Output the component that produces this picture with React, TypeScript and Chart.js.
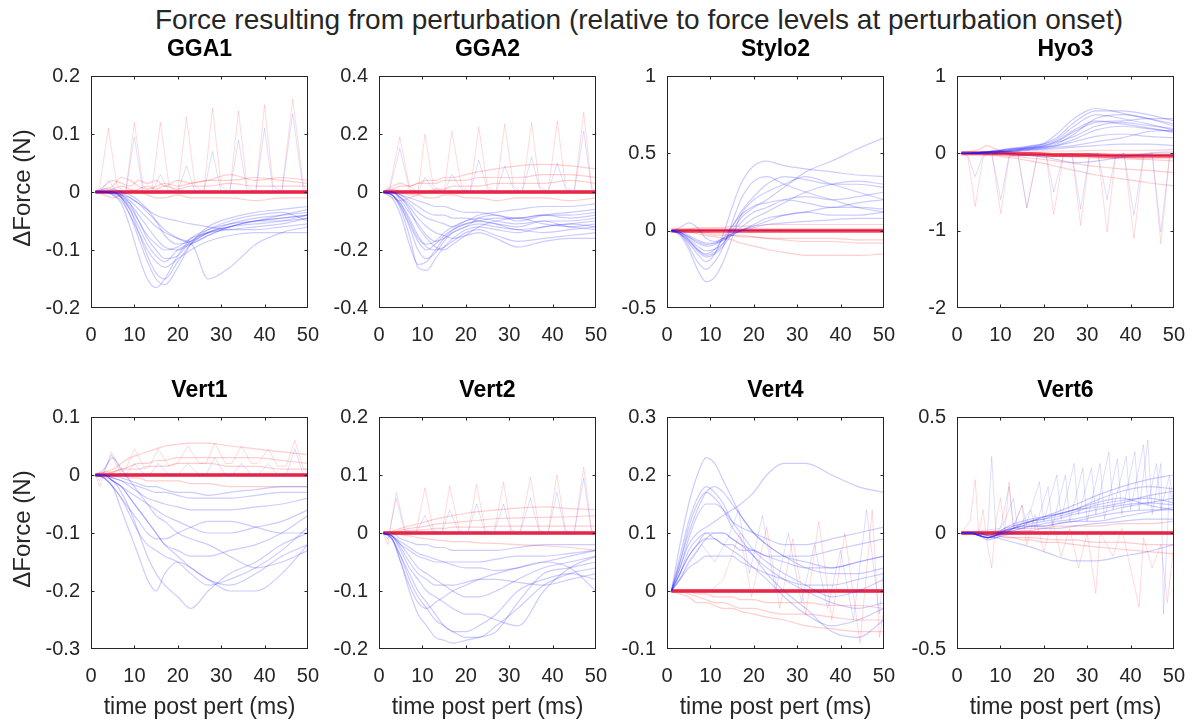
import React, { useEffect, useRef } from "react";
import { Chart, registerables } from "chart.js";
Chart.register(...registerables);

// ---------- data ----------
const T = [1, 3, 5, 7, 9, 11, 13, 15, 17, 20, 23, 27, 32, 38, 44, 50];
const xTickValues = [0, 10, 20, 30, 40, 50];
const zeroCore = [0, 0, 0, 0, 0, 0, 0, 0, 0, 0, 0, 0, 0, 0, 0, 0];

// GGA1
const gga1Blue = [
  [0, 0, -0.005, -0.02, -0.06, -0.11, -0.15, -0.165, -0.15, -0.11, -0.08, -0.065, -0.055, -0.05, -0.045, -0.04],
  [0, 0, -0.003, -0.01, -0.03, -0.07, -0.11, -0.14, -0.15, -0.12, -0.09, -0.07, -0.06, -0.05, -0.05, -0.045],
  [0, 0, 0, -0.005, -0.02, -0.05, -0.08, -0.1, -0.115, -0.11, -0.085, -0.07, -0.06, -0.055, -0.05, -0.04],
  [0, 0, 0, -0.005, -0.015, -0.03, -0.045, -0.06, -0.07, -0.08, -0.085, -0.07, -0.055, -0.045, -0.04, -0.035],
  [0, 0.005, 0.005, 0, -0.01, -0.02, -0.035, -0.05, -0.065, -0.08, -0.088, -0.075, -0.06, -0.05, -0.04, -0.03],
  [0, 0, 0, -0.005, -0.01, -0.02, -0.03, -0.04, -0.045, -0.05, -0.055, -0.06, -0.065, -0.065, -0.06, -0.055],
  [0, 0, 0, -0.01, -0.03, -0.06, -0.09, -0.11, -0.12, -0.1, -0.09, -0.15, -0.13, -0.09, -0.07, -0.06],
  [0, 0, 0, -0.01, -0.04, -0.08, -0.12, -0.15, -0.16, -0.13, -0.09, -0.06, -0.045, -0.035, -0.03, -0.025],
  [0, 0, -0.002, -0.008, -0.02, -0.04, -0.06, -0.08, -0.095, -0.1, -0.09, -0.075, -0.06, -0.05, -0.045, -0.04],
  [0, 0, 0, 0, -0.005, -0.015, -0.03, -0.05, -0.075, -0.09, -0.085, -0.065, -0.05, -0.04, -0.035, -0.05],
  [0, 0, -0.005, -0.015, -0.04, -0.07, -0.1, -0.12, -0.13, -0.115, -0.1, -0.085, -0.075, -0.07, -0.07, -0.07],
  [0, 0, 0, -0.008, -0.025, -0.05, -0.075, -0.09, -0.1, -0.095, -0.08, -0.07, -0.065, -0.06, -0.055, -0.045],
];
const gga1Red = [
  [0, 0.01, 0.02, 0.015, 0.01, 0.02, 0.015, 0.02, 0.01, 0.02, 0.015, 0.02, 0.02, 0.025, 0.02, 0.015],
  [0, -0.005, -0.01, -0.005, 0, 0.005, 0.01, 0.005, 0.01, 0.005, 0.01, 0.01, 0.015, 0.01, 0.01, 0.01],
  [0, 0, 0.005, 0.01, 0.005, 0, -0.005, -0.01, -0.01, -0.005, -0.01, -0.01, -0.01, -0.015, -0.01, -0.01],
  [0, 0.005, 0.01, 0.025, 0.02, 0.01, 0.005, 0.01, 0.015, 0.01, 0.015, 0.02, 0.03, 0.02, 0.025, 0.02],
];
const gga1SpikeX = [1, 2, 4, 6, 8, 10, 12, 14, 16, 18, 20, 22, 24, 26, 28, 30, 32, 34, 36, 38, 40, 42, 44, 46.5, 49, 50];
const gga1SpikeRed = [0, 0.01, 0.11, 0.01, 0, 0.12, 0.01, 0, 0.12, 0.01, 0, 0.13, 0.01, 0, 0.145, 0.01, 0, 0.14, 0.01, 0, 0.15, 0.01, 0, 0.16, 0.01, 0];
const gga1SpikeBlue = [0, 0, 0.02, 0, 0, 0.095, 0, 0, 0.03, 0, 0, 0.045, 0, 0, 0.07, 0, 0, 0.09, 0, 0, 0.11, 0, 0, 0.135, 0, 0];

// GGA2
const gga2Blue = [
  [0, -0.01, -0.06, -0.15, -0.26, -0.27, -0.23, -0.19, -0.16, -0.13, -0.12, -0.13, -0.14, -0.12, -0.11, -0.1],
  [0, -0.01, -0.05, -0.11, -0.17, -0.2, -0.18, -0.15, -0.13, -0.11, -0.1, -0.11, -0.12, -0.1, -0.1, -0.09],
  [0, 0, -0.03, -0.07, -0.11, -0.15, -0.17, -0.16, -0.14, -0.12, -0.09, -0.08, -0.1, -0.08, -0.07, -0.06],
  [0, 0, -0.02, -0.04, -0.07, -0.09, -0.1, -0.11, -0.12, -0.1, -0.08, -0.07, -0.06, -0.05, -0.05, -0.04],
  [0, -0.01, -0.04, -0.09, -0.15, -0.19, -0.2, -0.19, -0.17, -0.14, -0.13, -0.15, -0.17, -0.16, -0.15, -0.14],
  [0, -0.01, -0.05, -0.12, -0.2, -0.23, -0.21, -0.17, -0.14, -0.12, -0.11, -0.12, -0.13, -0.14, -0.13, -0.12],
  [0, 0, -0.01, -0.03, -0.05, -0.07, -0.08, -0.08, -0.09, -0.09, -0.1, -0.11, -0.13, -0.12, -0.11, -0.12],
  [0, -0.02, -0.08, -0.18, -0.25, -0.24, -0.2, -0.16, -0.13, -0.11, -0.1, -0.09, -0.09, -0.08, -0.08, -0.07],
  [0, 0, -0.02, -0.05, -0.09, -0.12, -0.14, -0.15, -0.16, -0.15, -0.14, -0.16, -0.19, -0.17, -0.16, -0.16],
  [0, 0, -0.01, -0.02, -0.03, -0.04, -0.05, -0.05, -0.06, -0.07, -0.07, -0.08, -0.09, -0.08, -0.09, -0.08],
  [0, -0.01, -0.04, -0.1, -0.16, -0.18, -0.17, -0.14, -0.12, -0.1, -0.09, -0.1, -0.11, -0.1, -0.12, -0.11],
  [0, 0, -0.02, -0.06, -0.12, -0.16, -0.19, -0.2, -0.18, -0.15, -0.12, -0.1, -0.09, -0.11, -0.12, -0.13],
];
const gga2Red = [
  [0, 0.01, 0.02, 0.02, 0.03, 0.04, 0.04, 0.05, 0.05, 0.06, 0.07, 0.08, 0.09, 0.095, 0.09, 0.08],
  [0, 0.02, 0.03, 0.02, 0.03, 0.03, 0.03, 0.04, 0.04, 0.04, 0.05, 0.05, 0.05, 0.06, 0.06, 0.05],
  [0, -0.02, -0.03, -0.02, -0.01, 0, 0.01, 0.01, 0.02, 0.02, 0.02, 0.03, 0.03, 0.03, 0.04, 0.03],
  [0, 0.01, 0, -0.01, -0.01, -0.02, -0.02, -0.01, -0.01, -0.02, -0.02, -0.03, -0.02, -0.02, -0.03, -0.02],
];
const gga2SpikeX = [1, 2.5, 4.8, 7, 9, 10.6, 12.5, 15, 16.8, 19, 21, 23, 25, 27, 29, 31, 33, 35.2, 37, 39, 41.1, 43, 45, 47.2, 49, 50];
const gga2SpikeRed = [0, 0.02, 0.19, 0.02, 0, 0.2, 0.02, 0, 0.21, 0.02, 0, 0.225, 0.02, 0, 0.235, 0.02, 0, 0.24, 0.02, 0, 0.245, 0.02, 0, 0.275, 0.02, 0];
const gga2SpikeBlue = [0, 0.01, 0.15, 0.01, 0, 0.05, 0.01, 0, 0.06, 0.01, 0, 0.11, 0.01, 0, 0.09, 0.01, 0, 0.12, 0.01, 0, 0.1, 0.01, 0, 0.21, 0.01, 0];

// Stylo2
const stylo2Blue = [
  [0, -0.02, -0.08, -0.15, -0.2, -0.15, -0.02, 0.15, 0.3, 0.42, 0.45, 0.42, 0.4, 0.38, 0.36, 0.35],
  [0, -0.03, -0.12, -0.25, -0.33, -0.3, -0.2, -0.05, 0.1, 0.2, 0.25, 0.3, 0.35, 0.3, 0.25, 0.2],
  [0, -0.01, -0.05, -0.1, -0.13, -0.12, -0.08, 0, 0.08, 0.15, 0.2, 0.28, 0.38, 0.45, 0.53, 0.6],
  [0, -0.01, -0.04, -0.08, -0.1, -0.09, -0.06, -0.03, 0, 0.03, 0.06, 0.1, 0.12, 0.15, 0.15, 0.14],
  [0, -0.02, -0.07, -0.13, -0.17, -0.15, -0.1, -0.02, 0.05, 0.12, 0.15, 0.2, 0.22, 0.2, 0.22, 0.25],
  [0, 0, -0.03, -0.06, -0.08, -0.08, -0.06, -0.03, 0, 0.02, 0.04, 0.05, 0.06, 0.07, 0.08, 0.08],
  [0, -0.02, -0.1, -0.2, -0.25, -0.2, -0.1, 0.05, 0.2, 0.32, 0.35, 0.3, 0.25, 0.2, 0.15, 0.12],
  [0, 0.02, 0.05, 0.02, -0.05, -0.07, -0.05, -0.02, 0.02, 0.08, 0.12, 0.18, 0.25, 0.3, 0.32, 0.3],
  [0, -0.01, -0.06, -0.12, -0.16, -0.14, -0.08, 0.02, 0.12, 0.22, 0.3, 0.35, 0.33, 0.3, 0.3, 0.28],
  [0, -0.01, -0.04, -0.07, -0.09, -0.08, -0.05, -0.02, 0, 0.04, 0.08, 0.1, 0.12, 0.1, 0.1, 0.12],
  [0, -0.02, -0.06, -0.12, -0.15, -0.12, -0.05, 0.03, 0.1, 0.16, 0.18, 0.2, 0.18, 0.15, 0.18, 0.2],
];
const stylo2Red = [
  [0, 0, -0.01, -0.02, -0.03, -0.04, -0.05, -0.06, -0.08, -0.1, -0.12, -0.14, -0.16, -0.16, -0.16, -0.15],
  [0, 0, 0, -0.01, -0.01, -0.02, -0.02, -0.03, -0.03, -0.04, -0.05, -0.06, -0.07, -0.07, -0.08, -0.08],
  [0, 0.01, 0.01, 0.02, 0.02, 0.02, 0.02, 0.03, 0.03, 0.03, 0.04, 0.04, 0.04, 0.04, 0.04, 0.04],
  [0, 0, -0.01, -0.01, -0.02, -0.03, -0.03, -0.03, -0.04, -0.04, -0.05, -0.05, -0.05, -0.05, -0.06, -0.06],
];

// Hyo3
const hyo3Blue = [
  [0, 0, 0.01, 0.02, 0.03, 0.04, 0.05, 0.06, 0.08, 0.12, 0.2, 0.4, 0.55, 0.55, 0.5, 0.42],
  [0, 0, 0.01, 0.01, 0.02, 0.03, 0.04, 0.05, 0.06, 0.08, 0.12, 0.25, 0.45, 0.5, 0.45, 0.35],
  [0, 0, 0, 0.01, 0.02, 0.02, 0.03, 0.04, 0.05, 0.07, 0.1, 0.18, 0.3, 0.35, 0.32, 0.28],
  [0, 0, 0.01, 0.01, 0.02, 0.03, 0.04, 0.05, 0.06, 0.08, 0.1, 0.15, 0.22, 0.25, 0.22, 0.2],
  [0, 0, 0.01, 0.02, 0.03, 0.04, 0.06, 0.07, 0.09, 0.12, 0.18, 0.35, 0.5, 0.45, 0.38, 0.3],
  [0, 0, 0, 0.01, 0.01, 0.02, 0.02, 0.03, 0.04, 0.05, 0.06, 0.08, 0.1, 0.12, 0.12, 0.1],
  [0, 0, 0.01, 0.02, 0.03, 0.05, 0.06, 0.07, 0.08, 0.1, 0.15, 0.28, 0.4, 0.42, 0.45, 0.45],
  [0, 0, 0, 0, 0.01, 0.02, 0.03, 0.04, 0.05, 0.06, 0.08, 0.1, 0.15, 0.2, 0.28, 0.3],
  [0, 0, 0, 0, 0, 0, -0.01, -0.02, -0.03, -0.05, -0.08, -0.12, -0.1, -0.05, 0, 0.02],
  [0, 0, 0.01, 0.02, 0.04, 0.05, 0.07, 0.08, 0.1, 0.13, 0.25, 0.45, 0.58, 0.52, 0.45, 0.38],
  [0, 0, 0.01, 0.02, 0.03, 0.04, 0.05, 0.06, 0.07, 0.1, 0.16, 0.3, 0.42, 0.38, 0.33, 0.27],
  [0, 0, 0.01, 0.01, 0.02, 0.03, 0.04, 0.05, 0.07, 0.09, 0.14, 0.22, 0.35, 0.4, 0.36, 0.32],
];
const hyo3Red = [
  [0, 0, -0.01, -0.02, -0.03, -0.05, -0.06, -0.08, -0.1, -0.13, -0.17, -0.22, -0.28, -0.33, -0.38, -0.42],
  [0, 0, 0, -0.01, -0.02, -0.03, -0.04, -0.05, -0.06, -0.08, -0.1, -0.13, -0.17, -0.2, -0.22, -0.25],
  [0, 0.02, 0.05, 0.1, 0.05, 0.02, 0.02, 0.01, 0.01, 0, -0.02, -0.03, -0.05, -0.07, -0.08, -0.1],
  [0, 0, 0, 0, -0.01, -0.01, -0.02, -0.02, -0.03, -0.03, -0.04, -0.05, -0.06, -0.06, -0.07, -0.07],
  [0, 0, 0.01, 0.01, 0.02, 0.02, 0.02, 0.03, 0.03, 0.03, 0.03, 0.03, 0.04, 0.04, 0.04, 0.05],
];
const hyo3Core = [0, 0, 0, 0, 0, 0, -0.005, -0.01, -0.01, -0.015, -0.02, -0.02, -0.025, -0.03, -0.03, -0.03];
const hyo3SpikeX = [1, 2.5, 4.2, 6, 8, 10.1, 12, 14, 16.1, 18.5, 20.5, 22.3, 24.5, 26.5, 28.5, 30.5, 32.5, 34.6, 36.5, 38.5, 40.8, 43, 45, 47, 49, 50];
const hyo3SpikeRed = [0, -0.05, -0.69, -0.05, 0, -0.78, -0.05, 0, -0.71, -0.05, 0, -0.79, -0.05, 0, -0.93, -0.05, 0, -1.02, -0.05, 0, -1.1, -0.05, 0, -1.17, -0.05, 0];
const hyo3SpikeBlue = [0, -0.03, -0.3, -0.03, 0, -0.6, -0.03, 0, -0.7, -0.03, 0, -0.5, -0.03, 0, -0.72, -0.03, 0, -0.6, -0.03, 0, -0.8, -0.03, 0, -1.02, -0.03, 0];

// Vert1
const vert1Blue = [
  [0, -0.005, -0.02, -0.06, -0.1, -0.14, -0.18, -0.2, -0.17, -0.15, -0.16, -0.18, -0.19, -0.17, -0.14, -0.12],
  [0, -0.003, -0.01, -0.03, -0.06, -0.1, -0.14, -0.17, -0.19, -0.21, -0.23, -0.2, -0.17, -0.15, -0.12, -0.1],
  [0, 0, -0.01, -0.02, -0.04, -0.06, -0.08, -0.1, -0.12, -0.14, -0.16, -0.18, -0.2, -0.2, -0.17, -0.12],
  [0, 0, -0.01, -0.02, -0.03, -0.04, -0.05, -0.06, -0.07, -0.08, -0.09, -0.1, -0.1, -0.09, -0.08, -0.06],
  [0, 0, -0.005, -0.01, -0.015, -0.02, -0.025, -0.03, -0.03, -0.035, -0.04, -0.04, -0.04, -0.035, -0.03, -0.03],
  [0, 0, -0.01, -0.02, -0.04, -0.06, -0.08, -0.1, -0.12, -0.13, -0.14, -0.14, -0.13, -0.12, -0.1, -0.07],
  [0, 0.01, 0.03, 0.01, -0.01, -0.03, -0.05, -0.07, -0.08, -0.1, -0.11, -0.12, -0.14, -0.16, -0.15, -0.13],
  [0, 0, -0.005, -0.01, -0.02, -0.03, -0.04, -0.045, -0.05, -0.055, -0.06, -0.06, -0.06, -0.055, -0.05, -0.04],
  [0, -0.005, -0.02, -0.04, -0.07, -0.1, -0.12, -0.13, -0.14, -0.15, -0.17, -0.19, -0.18, -0.16, -0.13, -0.09],
  [0, 0, 0, -0.005, -0.01, -0.015, -0.02, -0.02, -0.025, -0.03, -0.03, -0.035, -0.03, -0.025, -0.02, -0.02],
  [0, -0.005, -0.02, -0.04, -0.06, -0.08, -0.1, -0.11, -0.11, -0.1, -0.09, -0.08, -0.08, -0.09, -0.1, -0.1],
];
const vert1Red = [
  [0, 0.005, 0.01, 0.02, 0.03, 0.035, 0.04, 0.045, 0.05, 0.053, 0.055, 0.055, 0.05, 0.045, 0.04, 0.035],
  [0, 0, 0.005, 0.01, 0.015, 0.02, 0.02, 0.025, 0.025, 0.03, 0.03, 0.03, 0.03, 0.03, 0.025, 0.02],
  [0, 0, 0, 0, -0.005, -0.005, -0.01, -0.01, -0.01, -0.01, -0.015, -0.015, -0.02, -0.02, -0.02, -0.02],
  [0, 0.005, 0.005, 0.01, 0.01, 0.01, 0.015, 0.015, 0.015, 0.02, 0.02, 0.02, 0.015, 0.015, 0.01, 0.01],
];
const vert1SpikeX = [1, 2, 4.7, 7, 8, 10, 12.5, 13.5, 15.5, 18, 20, 22.3, 25, 26.5, 28.5, 31, 32.5, 34.7, 37, 38.5, 40.9, 43, 45, 47, 49, 50];
const vert1SpikeRed = [0, -0.02, 0.04, 0.005, 0.01, 0.045, 0.01, 0.015, 0.045, 0.015, 0.02, 0.05, 0.02, 0.02, 0.055, 0.02, 0.02, 0.05, 0.02, 0.02, 0.045, 0.015, 0.015, 0.06, 0.01, 0.01];
const vert1SpikeBlue = [0, -0.01, 0.035, 0, 0, 0.02, 0, 0, 0.02, 0, 0, 0.02, 0, 0, 0.03, 0, 0, 0.02, 0, 0, 0.02, 0, 0, 0.045, 0, 0];

// Vert2
const vert2Blue = [
  [0, -0.01, -0.05, -0.1, -0.14, -0.16, -0.18, -0.185, -0.19, -0.185, -0.18, -0.17, -0.12, -0.07, -0.06, -0.05],
  [0, -0.01, -0.04, -0.08, -0.11, -0.13, -0.15, -0.16, -0.17, -0.17, -0.16, -0.14, -0.1, -0.08, -0.07, -0.08],
  [0, -0.005, -0.03, -0.06, -0.08, -0.1, -0.11, -0.12, -0.13, -0.14, -0.14, -0.15, -0.16, -0.1, -0.06, -0.04],
  [0, -0.005, -0.02, -0.04, -0.06, -0.07, -0.08, -0.09, -0.1, -0.11, -0.11, -0.1, -0.08, -0.06, -0.05, -0.04],
  [0, -0.005, -0.02, -0.03, -0.04, -0.045, -0.05, -0.05, -0.05, -0.05, -0.05, -0.045, -0.04, -0.04, -0.035, -0.03],
  [0, -0.01, -0.05, -0.09, -0.12, -0.13, -0.12, -0.11, -0.1, -0.09, -0.08, -0.07, -0.06, -0.05, -0.06, -0.1],
  [0, 0, -0.01, -0.015, -0.02, -0.02, -0.025, -0.025, -0.03, -0.03, -0.03, -0.03, -0.025, -0.02, -0.02, -0.02],
  [0, -0.01, -0.04, -0.07, -0.1, -0.12, -0.14, -0.16, -0.17, -0.18, -0.18, -0.16, -0.13, -0.09, -0.07, -0.06],
  [0, -0.005, -0.025, -0.05, -0.07, -0.08, -0.09, -0.09, -0.09, -0.085, -0.08, -0.08, -0.085, -0.09, -0.08, -0.07],
  [0, -0.005, -0.015, -0.025, -0.035, -0.04, -0.045, -0.05, -0.055, -0.06, -0.06, -0.065, -0.06, -0.05, -0.04, -0.03],
];
const vert2Red = [
  [0, 0.003, 0.008, 0.012, 0.016, 0.02, 0.024, 0.027, 0.03, 0.034, 0.037, 0.04, 0.043, 0.045, 0.042, 0.04],
  [0, 0, 0.005, 0.008, 0.01, 0.012, 0.015, 0.017, 0.018, 0.02, 0.022, 0.025, 0.026, 0.027, 0.028, 0.03],
  [0, 0, -0.003, -0.005, -0.008, -0.01, -0.012, -0.013, -0.015, -0.015, -0.017, -0.018, -0.02, -0.022, -0.025, -0.03],
  [0, 0, 0.002, 0.004, 0.005, 0.006, 0.008, 0.008, 0.01, 0.01, 0.01, 0.012, 0.012, 0.012, 0.012, 0.012],
];
const vert2SpikeX = [1, 2, 4, 6, 8.5, 10.6, 12.5, 14.5, 16.3, 18.5, 20.5, 22.5, 24.5, 26.5, 28.7, 30.5, 32.5, 34.9, 37, 39, 41, 43, 45, 47.2, 49, 50];
const vert2SpikeRed = [0, -0.02, 0.07, 0.005, 0, 0.078, 0.005, 0, 0.081, 0.005, 0, 0.084, 0.005, 0, 0.088, 0.005, 0, 0.097, 0.005, 0, 0.1, 0.005, 0, 0.114, 0.005, 0];
const vert2SpikeBlue = [0, -0.01, 0.06, 0, 0, 0.03, 0, 0, 0.04, 0, 0, 0.05, 0, 0, 0.05, 0, 0, 0.06, 0, 0, 0.07, 0, 0, 0.095, 0, 0];

// Vert4
const vert4Blue = [
  [0, 0.08, 0.15, 0.2, 0.23, 0.22, 0.19, 0.16, 0.13, 0.1, 0.08, 0.06, 0.05, 0.04, 0.05, 0.06],
  [0, 0.05, 0.1, 0.14, 0.17, 0.18, 0.17, 0.15, 0.13, 0.1, 0.08, 0.06, 0.04, 0.03, 0.03, 0.04],
  [0, 0.04, 0.08, 0.1, 0.11, 0.12, 0.13, 0.14, 0.15, 0.17, 0.2, 0.22, 0.22, 0.2, 0.18, 0.17],
  [0, 0.03, 0.06, 0.08, 0.1, 0.1, 0.1, 0.09, 0.08, 0.07, 0.06, 0.05, 0.04, 0.04, 0.05, 0.06],
  [0, 0.06, 0.12, 0.16, 0.18, 0.17, 0.15, 0.12, 0.1, 0.07, 0.05, 0.03, 0.01, -0.01, 0, 0.02],
  [0, 0.02, 0.05, 0.07, 0.09, 0.1, 0.1, 0.09, 0.08, 0.06, 0.04, 0.02, 0, -0.02, -0.03, -0.02],
  [0, 0.03, 0.07, 0.09, 0.1, 0.09, 0.08, 0.07, 0.06, 0.04, 0.02, -0.01, -0.04, -0.06, -0.05, -0.03],
  [0, 0.04, 0.09, 0.13, 0.15, 0.15, 0.14, 0.12, 0.11, 0.1, 0.09, 0.08, 0.08, 0.09, 0.1, 0.11],
  [0, 0.02, 0.04, 0.05, 0.06, 0.06, 0.06, 0.06, 0.05, 0.04, 0.03, 0.02, 0.01, 0.01, 0.02, 0.03],
  [0, 0.05, 0.11, 0.15, 0.17, 0.16, 0.14, 0.11, 0.09, 0.06, 0.03, 0, -0.03, -0.07, -0.08, -0.05],
  [0, 0.03, 0.06, 0.08, 0.09, 0.09, 0.08, 0.08, 0.07, 0.07, 0.06, 0.06, 0.06, 0.07, 0.08, 0.09],
];
const vert4Red = [
  [0, 0, -0.005, -0.01, -0.015, -0.02, -0.02, -0.025, -0.03, -0.03, -0.035, -0.04, -0.04, -0.045, -0.05, -0.05],
  [0, -0.005, -0.01, -0.02, -0.02, -0.025, -0.03, -0.03, -0.035, -0.04, -0.045, -0.05, -0.06, -0.065, -0.07, -0.07],
  [0, 0, 0, -0.005, -0.005, -0.01, -0.01, -0.01, -0.015, -0.015, -0.02, -0.02, -0.02, -0.025, -0.025, -0.03],
];
const vert4ZigRedX = [1, 10, 13, 16.8, 19.5, 23, 26, 29, 32, 35, 38, 41, 44.5, 47.3, 49, 50];
const vert4ZigRed = [0, 0, 0.02, 0.1, -0.01, 0.11, -0.03, 0.09, -0.04, 0.12, -0.05, 0.1, -0.09, 0.14, -0.08, -0.03];
const vert4ZigBlueX = [1, 8, 11, 14, 16.5, 19, 22, 25, 28, 31, 34, 37, 40, 43, 46, 49, 50];
const vert4ZigBlue = [0, 0.08, 0.05, 0.09, 0.14, 0.03, 0.13, 0, 0.1, -0.02, 0.08, -0.03, 0.07, -0.05, 0.14, -0.04, 0.05];

// Vert6
const vert6Blue = [
  [0, 0, -0.01, -0.02, -0.01, 0.01, 0.03, 0.04, 0.05, 0.07, 0.09, 0.12, 0.16, 0.2, 0.23, 0.25],
  [0, 0, -0.01, -0.02, 0, 0.02, 0.03, 0.04, 0.05, 0.06, 0.07, 0.09, 0.12, 0.14, 0.15, 0.13],
  [0, 0, -0.01, -0.02, -0.01, 0, 0.01, 0.02, 0.03, 0.03, 0.04, 0.05, 0.07, 0.09, 0.1, 0.1],
  [0, 0, -0.01, -0.02, -0.02, -0.01, 0, 0.01, 0.01, 0.02, 0.02, 0.03, 0.04, 0.05, 0.06, 0.06],
  [0, 0, -0.01, -0.03, -0.02, 0, 0.02, 0.04, 0.05, 0.07, 0.08, 0.1, 0.13, 0.15, 0.12, 0.1],
  [0, 0, 0, -0.01, -0.02, -0.03, -0.04, -0.05, -0.06, -0.08, -0.1, -0.12, -0.12, -0.1, -0.08, -0.05],
  [0, 0, -0.01, -0.02, -0.01, 0.02, 0.04, 0.05, 0.06, 0.07, 0.08, 0.1, 0.14, 0.18, 0.2, 0.19],
  [0, 0, 0, -0.01, 0, 0.01, 0.02, 0.02, 0.03, 0.03, 0.04, 0.05, 0.05, 0.07, 0.09, 0.11],
  [0, 0, -0.01, -0.02, -0.01, 0.01, 0.02, 0.03, 0.03, 0.04, 0.05, 0.06, 0.08, 0.11, 0.13, 0.15],
  [0, 0, -0.01, -0.02, -0.01, 0.01, 0.02, 0.03, 0.04, 0.05, 0.06, 0.08, 0.1, 0.12, 0.13, 0.12],
  [0, 0, -0.01, -0.02, -0.01, 0, 0.02, 0.03, 0.05, 0.06, 0.08, 0.1, 0.11, 0.13, 0.16, 0.18],
];
const vert6Red = [
  [0, 0, 0, -0.01, -0.01, -0.02, -0.02, -0.03, -0.03, -0.04, -0.04, -0.05, -0.06, -0.07, -0.08, -0.09],
  [0, 0, 0, 0, 0.01, 0.01, 0.01, 0.02, 0.02, 0.02, 0.03, 0.03, 0.03, 0.04, 0.04, 0.05],
  [0, 0, -0.005, -0.01, -0.01, -0.015, -0.02, -0.02, -0.02, -0.025, -0.03, -0.03, -0.04, -0.04, -0.05, -0.05],
];
const vert6SpikeBlueX = [1, 5, 7, 8, 9, 11, 13, 14, 17, 18, 21, 22, 25, 26, 29, 30, 33, 34, 37, 38, 41, 42, 44, 45, 47, 47.6, 49, 50];
const vert6SpikeBlue = [0, 0, -0.02, 0.33, 0, 0.05, 0.15, 0.02, 0.1, 0.02, 0.2, 0.03, 0.25, 0.05, 0.28, 0.05, 0.3, 0.06, 0.32, 0.08, 0.35, 0.1, 0.4, 0.08, 0.3, -0.35, 0.2, 0.1];
const vert6SpikeBlue2X = [1, 10, 12, 13, 15, 16, 19, 20, 23, 24, 27, 28, 31, 32, 35, 36, 39, 40, 43, 44, 46, 47, 49, 50];
const vert6SpikeBlue2 = [0, 0.02, 0.2, 0.03, 0.12, 0.04, 0.22, 0.05, 0.25, 0.06, 0.3, 0.08, 0.28, 0.08, 0.35, 0.1, 0.33, 0.1, 0.38, 0.12, 0.3, 0.1, 0.25, 0.12];
const vert6SpikeRedX = [1, 3, 4.2, 5, 6, 7, 8, 9, 10, 11, 12, 13, 15, 16, 18, 20, 22, 24, 26, 28, 30, 32, 33, 36, 38, 40, 42, 43, 45, 47, 48.5, 50];
const vert6SpikeRed = [0, 0.05, 0.23, 0, 0.1, -0.05, -0.15, 0.05, 0.15, 0, 0.22, 0.02, 0.12, -0.05, 0.08, -0.08, 0.05, -0.1, 0.02, -0.15, 0, -0.26, 0, -0.1, 0.02, -0.15, -0.32, -0.02, -0.15, -0.05, -0.3, -0.05];

// ---------- panel definitions ----------
type Spike = { x: number[]; y: number[]; blue: boolean };
type Panel = {
  name: string; yMin: number; yMax: number; yStep: number;
  blue: number[][]; red: number[][]; core: number[]; spikes: Spike[];
};

const panels: Panel[] = [
  { name: "GGA1", yMin: -0.2, yMax: 0.2, yStep: 0.1, blue: gga1Blue, red: gga1Red, core: zeroCore,
    spikes: [{ x: gga1SpikeX, y: gga1SpikeBlue, blue: true }, { x: gga1SpikeX, y: gga1SpikeRed, blue: false }] },
  { name: "GGA2", yMin: -0.4, yMax: 0.4, yStep: 0.2, blue: gga2Blue, red: gga2Red, core: zeroCore,
    spikes: [{ x: gga2SpikeX, y: gga2SpikeBlue, blue: true }, { x: gga2SpikeX, y: gga2SpikeRed, blue: false }] },
  { name: "Stylo2", yMin: -0.5, yMax: 1, yStep: 0.5, blue: stylo2Blue, red: stylo2Red, core: zeroCore, spikes: [] },
  { name: "Hyo3", yMin: -2, yMax: 1, yStep: 1, blue: hyo3Blue, red: hyo3Red, core: hyo3Core,
    spikes: [{ x: hyo3SpikeX, y: hyo3SpikeBlue, blue: true }, { x: hyo3SpikeX, y: hyo3SpikeRed, blue: false }] },
  { name: "Vert1", yMin: -0.3, yMax: 0.1, yStep: 0.1, blue: vert1Blue, red: vert1Red, core: zeroCore,
    spikes: [{ x: vert1SpikeX, y: vert1SpikeBlue, blue: true }, { x: vert1SpikeX, y: vert1SpikeRed, blue: false }] },
  { name: "Vert2", yMin: -0.2, yMax: 0.2, yStep: 0.1, blue: vert2Blue, red: vert2Red, core: zeroCore,
    spikes: [{ x: vert2SpikeX, y: vert2SpikeBlue, blue: true }, { x: vert2SpikeX, y: vert2SpikeRed, blue: false }] },
  { name: "Vert4", yMin: -0.1, yMax: 0.3, yStep: 0.1, blue: vert4Blue, red: vert4Red, core: zeroCore,
    spikes: [{ x: vert4ZigBlueX, y: vert4ZigBlue, blue: true }, { x: vert4ZigRedX, y: vert4ZigRed, blue: false }] },
  { name: "Vert6", yMin: -0.5, yMax: 0.5, yStep: 0.5, blue: vert6Blue, red: vert6Red, core: zeroCore,
    spikes: [
      { x: vert6SpikeBlueX, y: vert6SpikeBlue, blue: true },
      { x: vert6SpikeBlue2X, y: vert6SpikeBlue2, blue: true },
      { x: vert6SpikeRedX, y: vert6SpikeRed, blue: false },
    ] },
];

// ---------- layout / style ----------
const FONT = "'Liberation Sans', Arial, Helvetica, sans-serif";
const INK = "#262626";
const COL_LEFT = [91, 379, 667, 957];
const ROW_TOP = [67, 408];
const PW = 217;
const PH = 241;
const Y_AXIS_W = 80;
const X_AXIS_H = 45;
const PAD_T = 14;
const PAD_R = 26;

const BLUE_LINE = "rgba(25,25,255,0.22)";
const BLUE_SPIKE = "rgba(70,70,255,0.18)";
const RED_LINE = "rgba(255,30,30,0.22)";
const RED_SPIKE = "rgba(255,70,70,0.2)";

const boxPlugin = {
  id: "matlabBox",
  afterDatasetsDraw(chart: any) {
    const { ctx, chartArea: a, scales } = chart;
    const L = Math.round(a.left) + 0.5, R = Math.round(a.right) - 0.5;
    const Tp = Math.round(a.top) + 0.5, B = Math.round(a.bottom) - 0.5;
    ctx.save();
    ctx.strokeStyle = INK;
    ctx.lineWidth = 1;
    ctx.strokeRect(L, Tp, R - L, B - Tp);
    const tl = 3;
    ctx.beginPath();
    scales.x.ticks.forEach((t: any) => {
      const px = Math.round(scales.x.getPixelForValue(t.value)) + 0.5;
      if (px <= L + 1 || px >= R - 1) return;
      ctx.moveTo(px, B); ctx.lineTo(px, B - tl);
      ctx.moveTo(px, Tp); ctx.lineTo(px, Tp + tl);
    });
    scales.y.ticks.forEach((t: any) => {
      const py = Math.round(scales.y.getPixelForValue(t.value)) + 0.5;
      if (py <= Tp + 1 || py >= B - 1) return;
      ctx.moveTo(L, py); ctx.lineTo(L + tl, py);
      ctx.moveTo(R, py); ctx.lineTo(R - tl, py);
    });
    ctx.stroke();
    ctx.restore();
  },
};

function fmtTick(v: number) {
  const r = Math.round(v * 100) / 100;
  return r === 0 ? "0" : String(r);
}

function mkLine(xs: number[], ys: number[], color: string, width: number, smooth: boolean) {
  return {
    data: xs.map((x, i) => ({ x, y: ys[i] })),
    borderColor: color,
    borderWidth: width,
    pointRadius: 0,
    fill: false,
    tension: smooth ? 0.4 : 0,
    cubicInterpolationMode: smooth ? "monotone" : "default",
  };
}

function PanelChart({ p, left, top }: { p: Panel; left: number; top: number }) {
  const ref = useRef<HTMLCanvasElement>(null);
  const W = Y_AXIS_W + PW + PAD_R;
  const H = PAD_T + PH + X_AXIS_H;
  useEffect(() => {
    if (!ref.current) return;
    const datasets: any[] = [];
    p.spikes.filter((s) => s.blue).forEach((s) => datasets.push(mkLine(s.x, s.y, BLUE_SPIKE, 1, false)));
    p.blue.forEach((v) => datasets.push(mkLine(T, v, BLUE_LINE, 1.2, true)));
    p.spikes.filter((s) => !s.blue).forEach((s) => datasets.push(mkLine(s.x, s.y, RED_SPIKE, 1, false)));
    p.red.forEach((v) => datasets.push(mkLine(T, v, RED_LINE, 1.2, true)));
    datasets.push(mkLine(T, p.core, "rgba(240,20,55,0.75)", 4, true));
    datasets.push(mkLine(T, p.core, "rgba(150,0,60,0.85)", 1.3, true));
    const chart = new Chart(ref.current, {
      type: "line",
      data: { datasets },
      options: {
        animation: false,
        responsive: false,
        maintainAspectRatio: false,
        events: [],
        layout: { padding: { top: PAD_T, right: PAD_R, left: 0, bottom: 0 } },
        plugins: { legend: { display: false }, tooltip: { enabled: false }, title: { display: false } },
        scales: {
          x: {
            type: "linear", min: 0, max: 50,
            grid: { display: false, drawTicks: false },
            border: { display: false },
            ticks: { stepSize: 10, autoSkip: false, maxRotation: 0, padding: 15, color: INK,
              font: { family: FONT, size: 20 }, callback: (v: any) => String(v) },
            afterBuildTicks: (s: any) => { s.ticks = xTickValues.map((v) => ({ value: v })); },
            afterFit: (s: any) => { s.height = X_AXIS_H; },
          },
          y: {
            type: "linear", min: p.yMin, max: p.yMax,
            grid: { display: false, drawTicks: false },
            border: { display: false },
            ticks: { stepSize: p.yStep, autoSkip: false, padding: 11, color: INK,
              font: { family: FONT, size: 20 }, callback: (v: any) => fmtTick(Number(v)) },
            afterFit: (s: any) => { s.width = Y_AXIS_W; },
          },
        },
      } as any,
      plugins: [boxPlugin],
    });
    return () => chart.destroy();
  }, [p]);
  return (
    <canvas
      ref={ref}
      width={W}
      height={H}
      style={{ position: "absolute", left: left - Y_AXIS_W, top: top - PAD_T, width: W, height: H }}
    />
  );
}

const textBase: React.CSSProperties = {
  position: "absolute", fontFamily: FONT, color: "#000", lineHeight: 1, whiteSpace: "nowrap",
};

export default function App() {
  return (
    <div style={{ position: "fixed", left: 0, top: 0, width: 1194, height: 724, background: "#fff", overflow: "hidden" }}>
      <div style={{ ...textBase, left: 39, width: 1200, textAlign: "center", top: 6, fontSize: 28, color: INK }}>
        Force resulting from perturbation (relative to force levels at perturbation onset)
      </div>
      {panels.map((p, i) => {
        const r = Math.floor(i / 4);
        const c = i % 4;
        const left = COL_LEFT[c];
        const top = ROW_TOP[r];
        return (
          <React.Fragment key={p.name}>
            <PanelChart p={p} left={left} top={top} />
            <div style={{ ...textBase, left, width: PW, textAlign: "center", top: top - 30, fontSize: 23, fontWeight: "bold" }}>
              {p.name}
            </div>
            {r === 1 && (
              <div style={{ ...textBase, left, width: PW, textAlign: "center", top: 695, fontSize: 23, color: INK }}>
                time post pert (ms)
              </div>
            )}
            {c === 0 && (
              <div
                style={{
                  ...textBase, left: 22 - 100, width: 200, textAlign: "center", top: top + PH / 2 - 12,
                  fontSize: 24, color: INK, transform: "rotate(-90deg)", height: 24,
                }}
              >
                ΔForce (N)
              </div>
            )}
          </React.Fragment>
        );
      })}
    </div>
  );
}
